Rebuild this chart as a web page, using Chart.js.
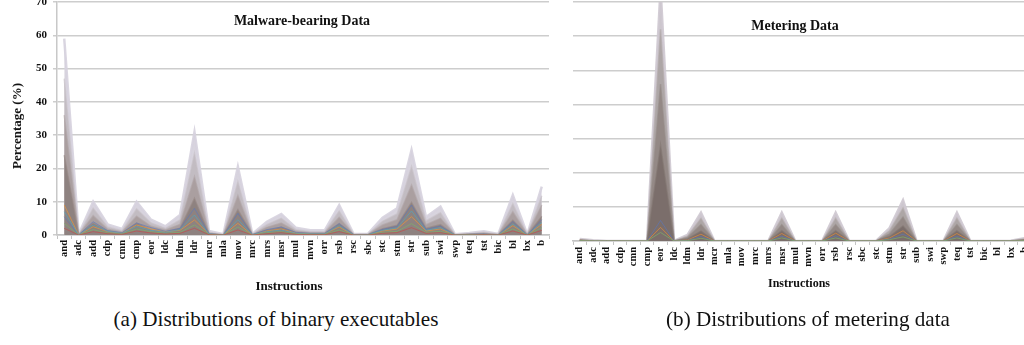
<!DOCTYPE html>
<html>
<head>
<meta charset="utf-8">
<script src="https://cdn.jsdelivr.net/npm/chart.js"></script>
<style>
  body { margin:0; width:1024px; height:345px; overflow:hidden; position:relative; background:#fff; }
  .box { position:absolute; top:0; height:300px; }
  .txt { position:absolute; white-space:nowrap; transform:translate(-50%,-50%); color:#111; font-family:'Liberation Serif','Times New Roman',serif; }
  .b { font-weight:bold; }
</style>
</head>
<body>
<div class="box" style="left:0;width:560px"><canvas id="malware"></canvas></div>
<div class="box" style="left:540px;width:500px"><canvas id="metering"></canvas></div>

<div class="txt b" style="left:302px;top:21px;font-size:14px">Malware-bearing Data</div>
<div class="txt b" style="left:795px;top:26px;font-size:14px">Metering Data</div>
<div class="txt b" style="left:289px;top:286px;font-size:13px">Instructions</div>
<div class="txt b" style="left:799px;top:283px;font-size:12px">Instructions</div>
<div class="txt b" style="left:17px;top:126px;font-size:13px;transform:translate(-50%,-50%) rotate(-90deg)">Percentage (%)</div>
<div class="txt" style="left:276px;top:319px;font-size:22px;transform:translate(-50%,-50%) scaleX(0.96)">(a) Distributions of binary executables</div>
<div class="txt" style="left:808px;top:319px;font-size:22px;transform:translate(-50%,-50%) scaleX(0.96)">(b) Distributions of metering data</div>

<script>
// instruction names (x axis), same for both panels
const instructions = ['and','adc','add','cdp','cmn','cmp','eor','ldc','ldm','ldr','mcr','mla','mov','mrc','mrs','msr','mul','mvn','orr','rsb','rsc','sbc','stc','stm','str','sub','swi','swp','teq','tst','bic','bl','bx','b'];
const yTicks = [0,10,20,30,40,50,60,70];

// malware-bearing data, percentage per instruction (outer envelope down to inner bands)
const malwareMax = [59,0.2,10,3.2,1.8,10,4.6,2.6,6,31,1.2,0.2,20.5,0.3,4,6.3,2.2,1.4,1.4,9,0.3,0.4,5.2,8,25.5,5.4,8.5,0.2,0.6,1.1,0.3,12,0.2,14.5];
const malwareHigh = [47,0.1,8,2.4,1.3,7.8,3.6,2,4.5,24.5,0.8,0.1,16,0.2,3.1,5,1.6,1,1,7.2,0.2,0.3,4.1,6.3,20.5,4.2,6.7,0.1,0.4,0.8,0.2,9.4,0.1,11.8];
const malwareMid = [36,0.1,5.8,1.7,0.9,5.6,2.6,1.5,3.2,17.5,0.5,0.1,11.8,0.1,2.3,3.6,1.1,0.7,0.7,5.3,0.1,0.2,3,4.6,15,3.1,5,0.1,0.3,0.5,0.1,7,0.1,9];
const malwareLow = [24,0,3.6,1.1,0.5,3.6,1.6,0.9,2,11,0.3,0,7.6,0.1,1.4,2.3,0.7,0.4,0.4,3.4,0.1,0.1,1.9,2.9,9.8,2,3.1,0,0.2,0.3,0.1,4.4,0,5.6];
const malwareOrange = [9,0,2.5,1,0.6,3,1.8,1,1.4,4.5,0.3,0,3.5,0,1.2,1.8,0.6,0.4,0.4,2.4,0,0.1,1.2,1.8,5.5,1.2,1.8,0,0.1,0.2,0,2.8,0,3.2];
const malwareBlue = [5.5,0,4,1.3,0.7,3.6,2.2,1.1,2,8,0.4,0,6.5,0.1,1.6,2.4,0.8,0.5,0.5,3.4,0.1,0.1,1.7,2.6,9,1.7,2.7,0,0.2,0.3,0,4,0,4.6];
const malwareTeal = [7,0,3,1.1,0.5,2.6,1.4,0.8,1.6,6,0.3,0,4.6,0.1,1,1.5,0.5,0.3,0.3,2.8,0,0.1,1.4,2.1,7.2,1.4,2.2,0,0.1,0.2,0,3.3,0,3.8];
const malwareGreen = [3.5,0,1.6,0.6,0.3,1.8,1,0.5,0.8,3,0.2,0,2.4,0,0.7,1,0.3,0.2,0.2,1.5,0,0,0.8,1.1,3.4,0.8,1.1,0,0.1,0.1,0,1.8,0,2.2];
const malwareRed = [2,0,1,0.4,0.2,1.2,0.6,0.3,0.5,2,0.1,0,1.5,0,0.4,0.7,0.2,0.1,0.1,1,0,0,0.5,0.7,2.2,0.5,0.7,0,0,0.1,0,1.2,0,1.4];

// metering data
const meterMax = [0.6,0.2,0,0,0,0,74,0,1.8,8.3,0,0,0,0,0,8.3,0,0,0,8.3,0,0,0,3.8,12,0,0,0,8.3,0,0,0,0.1,0.8];
const meterHigh = [0.4,0.1,0,0,0,0,62,0,1.4,6.6,0,0,0,0,0,6.6,0,0,0,6.6,0,0,0,3,9.6,0,0,0,6.6,0,0,0,0.1,0.6];
const meterMid = [0.3,0,0,0,0,0,46,0,1,4.8,0,0,0,0,0,4.8,0,0,0,4.8,0,0,0,2.1,7,0,0,0,4.8,0,0,0,0,0.4];
const meterLow = [0.2,0,0,0,0,0,28,0,0.6,2.9,0,0,0,0,0,3,0,0,0,3,0,0,0,1.3,4.4,0,0,0,3,0,0,0,0,0.3];
const meterOrange = [0.2,0,0,0,0,0,4,0,0.3,2,0,0,0,0,0,2.2,0,0,0,2.3,0,0,0,0.9,3,0,0,0,2.2,0,0,0,0,0.2];
const meterBlue = [0.1,0,0,0,0,0,6,0,0.2,1.3,0,0,0,0,0,1.4,0,0,0,1.5,0,0,0,0.6,2,0,0,0,1.4,0,0,0,0,0.1];
const meterGreen = [0.1,0,0,0,0,0,2.5,0,0.1,0.8,0,0,0,0,0,0.9,0,0,0,0.9,0,0,0,0.4,1.2,0,0,0,0.9,0,0,0,0,0.1];

const serif = "'Liberation Serif','Times New Roman',serif";

function band(data, fill, border, w){
  return {data:data, fill:'origin', backgroundColor:fill, borderColor:border, borderWidth:w || 1.5, pointRadius:0, tension:0};
}
function thin(data, color){
  return {data:data, fill:false, borderColor:color, borderWidth:1, pointRadius:0, tension:0};
}

function makeChart(id, sets, o){
  return new Chart(document.getElementById(id), {
    type:'line',
    data:{labels:instructions, datasets:sets},
    options:{
      responsive:true, maintainAspectRatio:false, animation:false,
      layout:{padding:{top:2, right:o.right, left:0, bottom:0}},
      plugins:{legend:{display:false}, tooltip:{enabled:false}},
      scales:{
        x:{
          offset:true,
          afterFit:function(s){ s.height = o.xHeight; },
          grid:{offset:true, drawOnChartArea:false, drawTicks:true, tickLength:4, color:'#c4c4c4'},
          border:{color:'#c4c4c4', width:1.5},
          ticks:{autoSkip:false, minRotation:90, maxRotation:90, padding:o.xPad, color:'#111', font:{family:serif, size:10.5, weight:'bold'}}
        },
        y:{
          min:0, max:70,
          afterFit:function(s){ s.width = o.yWidth; s.paddingTop = 0; s.paddingBottom = 0; }, // let "70" run off the top like the scan
          afterBuildTicks:function(s){ s.ticks = yTicks.map(v => ({value:v})); },
          grid:{color:'#cdcdcd', lineWidth:1.5, drawTicks:o.yLabels, tickLength:4},
          border:{display:o.yLabels, color:'#c8c8c8', width:1.5},
          ticks:{display:o.yLabels, padding:6, color:'#111', font:{family:serif, size:11, weight:'bold'}}
        }
      }
    }
  });
}

// dataset 0 is drawn on top, so inner bands first
makeChart('malware', [
  thin(malwareRed, 'rgba(192,80,77,0.7)'),
  thin(malwareGreen, 'rgba(127,176,105,0.7)'),
  thin(malwareTeal, 'rgba(75,172,198,0.6)'),
  thin(malwareBlue, 'rgba(90,120,190,0.6)'),
  thin(malwareOrange, 'rgba(232,150,60,0.7)'),
  band(malwareLow, 'rgba(138,124,122,0.85)', 'rgba(150,135,132,0.6)'),
  band(malwareMid, 'rgba(166,154,154,0.85)', 'rgba(175,164,165,0.6)'),
  band(malwareHigh, 'rgba(192,185,191,0.9)', 'rgba(198,191,198,0.6)'),
  band(malwareMax, 'rgba(216,212,222,1)', 'rgba(214,210,222,0.9)', 2.5)
], {right:11, xHeight:65, yWidth:57, xPad:1, yLabels:true});

makeChart('metering', [
  thin(meterGreen, 'rgba(127,176,105,0.7)'),
  thin(meterBlue, 'rgba(90,120,190,0.6)'),
  thin(meterOrange, 'rgba(225,140,60,0.7)'),
  band(meterLow, 'rgba(120,108,104,0.9)', 'rgba(130,118,114,0.6)'),
  band(meterMid, 'rgba(145,134,131,0.9)', 'rgba(150,140,137,0.6)'),
  band(meterHigh, 'rgba(170,162,162,0.9)', 'rgba(176,168,169,0.6)'),
  band(meterMax, 'rgba(204,198,205,1)', 'rgba(206,200,208,0.9)', 2.5)
], {right:9, xHeight:59, yWidth:33, xPad:2, yLabels:false});
</script>
</body>
</html>
